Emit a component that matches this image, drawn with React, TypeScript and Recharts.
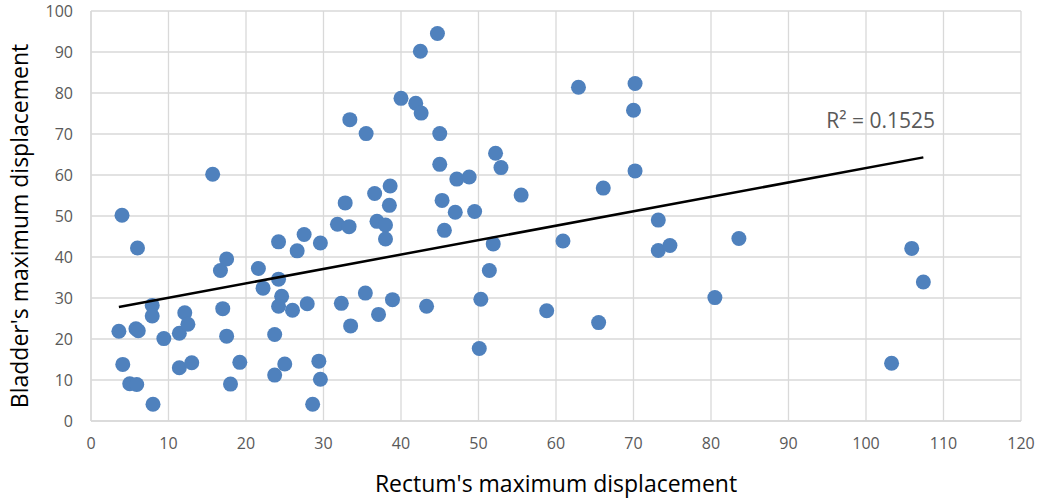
import { CartesianGrid, Label, ReferenceDot, Scatter, ScatterChart, XAxis, YAxis } from "recharts";

// Rectum's maximum displacement (x) for each patient
const rectumDisp = [
  3.6, 4.0, 4.1, 5.0, 5.9, 5.8, 6.1, 6.0, 7.9, 7.9,
  8.0, 9.4, 11.4, 11.4, 12.1, 12.5, 13.0, 15.7, 16.7, 17.5,
  17.0, 17.5, 18.0, 19.2, 21.6, 22.2, 23.7, 23.7, 24.2, 24.2,
  24.6, 24.2, 25.0, 26.0, 26.6, 27.5, 27.9, 28.6, 29.4, 29.6,
  29.6, 31.8, 32.3, 32.8, 33.3, 33.4, 33.5, 35.4, 35.5, 36.6,
  36.9, 37.1, 38.0, 38.0, 38.5, 38.6, 38.9, 40.0, 41.9, 42.6,
  42.5, 43.3, 44.7, 45.0, 45.0, 45.3, 45.6, 47.0, 47.2, 48.8,
  49.5, 50.1, 50.3, 51.4, 51.9, 52.2, 52.9, 55.5, 58.8, 60.9,
  62.9, 65.5, 66.1, 70.0, 70.2, 70.2, 73.2, 73.2, 74.7, 80.5,
  83.6, 103.3, 105.9, 107.4,
];

// Bladder's maximum displacement (y), same order
const bladderDisp = [
  21.9, 50.2, 13.8, 9.1, 8.9, 22.5, 22.0, 42.2, 28.2, 25.6,
  4.1, 20.1, 21.4, 13.0, 26.4, 23.6, 14.2, 60.2, 36.7, 39.5,
  27.4, 20.7, 9.0, 14.3, 37.2, 32.4, 21.1, 11.2, 43.7, 34.6,
  30.4, 28.0, 13.9, 27.0, 41.5, 45.5, 28.6, 4.1, 14.6, 10.2,
  43.4, 48.0, 28.7, 53.2, 47.4, 73.5, 23.2, 31.2, 70.1, 55.5,
  48.7, 26.0, 47.8, 44.4, 52.6, 57.3, 29.6, 78.7, 77.5, 75.1,
  90.2, 28.0, 94.5, 70.1, 62.6, 53.8, 46.5, 50.9, 59.0, 59.5,
  51.1, 17.7, 29.7, 36.7, 43.2, 65.3, 61.8, 55.1, 26.9, 43.9,
  81.4, 24.0, 56.8, 75.8, 82.3, 61.0, 49.0, 41.6, 42.8, 30.1,
  44.5, 14.1, 42.1, 33.9,
];

// linear trendline end points
const trendRectum = [3.6, 107.4];
const trendBladder = [27.8, 64.3];

const xTicks = [0, 10, 20, 30, 40, 50, 60, 70, 80, 90, 100, 110, 120];
const yTicks = [0, 10, 20, 30, 40, 50, 60, 70, 80, 90, 100];

const r2Text = "R² = 0.1525";
const r2Pos = { x: 101.9, y: 73.3 };

const points = rectumDisp.map((x, i) => ({ x, y: bladderDisp[i] }));
const trend = trendRectum.map((x, i) => ({ x, y: trendBladder[i] }));

const GRID = "#d9d9d9";
const TICK = "#595959";

const Dot = (p: any) => <circle cx={p.cx} cy={p.cy} r={7.5} fill="#4F81BD" />;

export default function App() {
  return (
    <div style={{ position: "absolute", left: 0, top: 0, fontFamily: "'Open Sans', sans-serif" }}>
      <ScatterChart width={1040} height={498} margin={{ top: 11, right: 19, bottom: 0, left: 0 }}>
        <CartesianGrid stroke={GRID} strokeWidth={1.3} />
        <XAxis
          type="number"
          dataKey="x"
          domain={[0, 120]}
          ticks={xTicks}
          interval={0}
          height={77}
          tickLine={false}
          tickSize={0}
          tickMargin={17}
          axisLine={{ stroke: GRID, strokeWidth: 1.3 }}
          tick={{ fill: TICK, fontSize: 16 }}
        >
          <Label value="Rectum's maximum displacement" position="insideBottom" offset={6} fill="#000" fontSize={23} />
        </XAxis>
        <YAxis
          type="number"
          dataKey="y"
          domain={[0, 100]}
          ticks={yTicks}
          interval={0}
          width={91}
          tickLine={false}
          tickSize={0}
          tickMargin={18}
          axisLine={{ stroke: GRID, strokeWidth: 1.3 }}
          tick={{ fill: TICK, fontSize: 16 }}
        >
          <Label
            content={() => (
              <text transform="translate(28,226) rotate(-90)" textAnchor="middle" fill="#000" fontSize={23}>
                Bladder's maximum displacement
              </text>
            )}
          />
        </YAxis>
        <Scatter data={points} shape={Dot} isAnimationActive={false} />
        <Scatter
          data={trend}
          line={{ stroke: "#000", strokeWidth: 2.5 }}
          shape={() => <g />}
          isAnimationActive={false}
        />
        <ReferenceDot
          x={r2Pos.x}
          y={r2Pos.y}
          r={1}
          fill="none"
          stroke="none"
          label={{ value: r2Text, position: "center", fill: TICK, fontSize: 21 }}
        />
      </ScatterChart>
    </div>
  );
}
